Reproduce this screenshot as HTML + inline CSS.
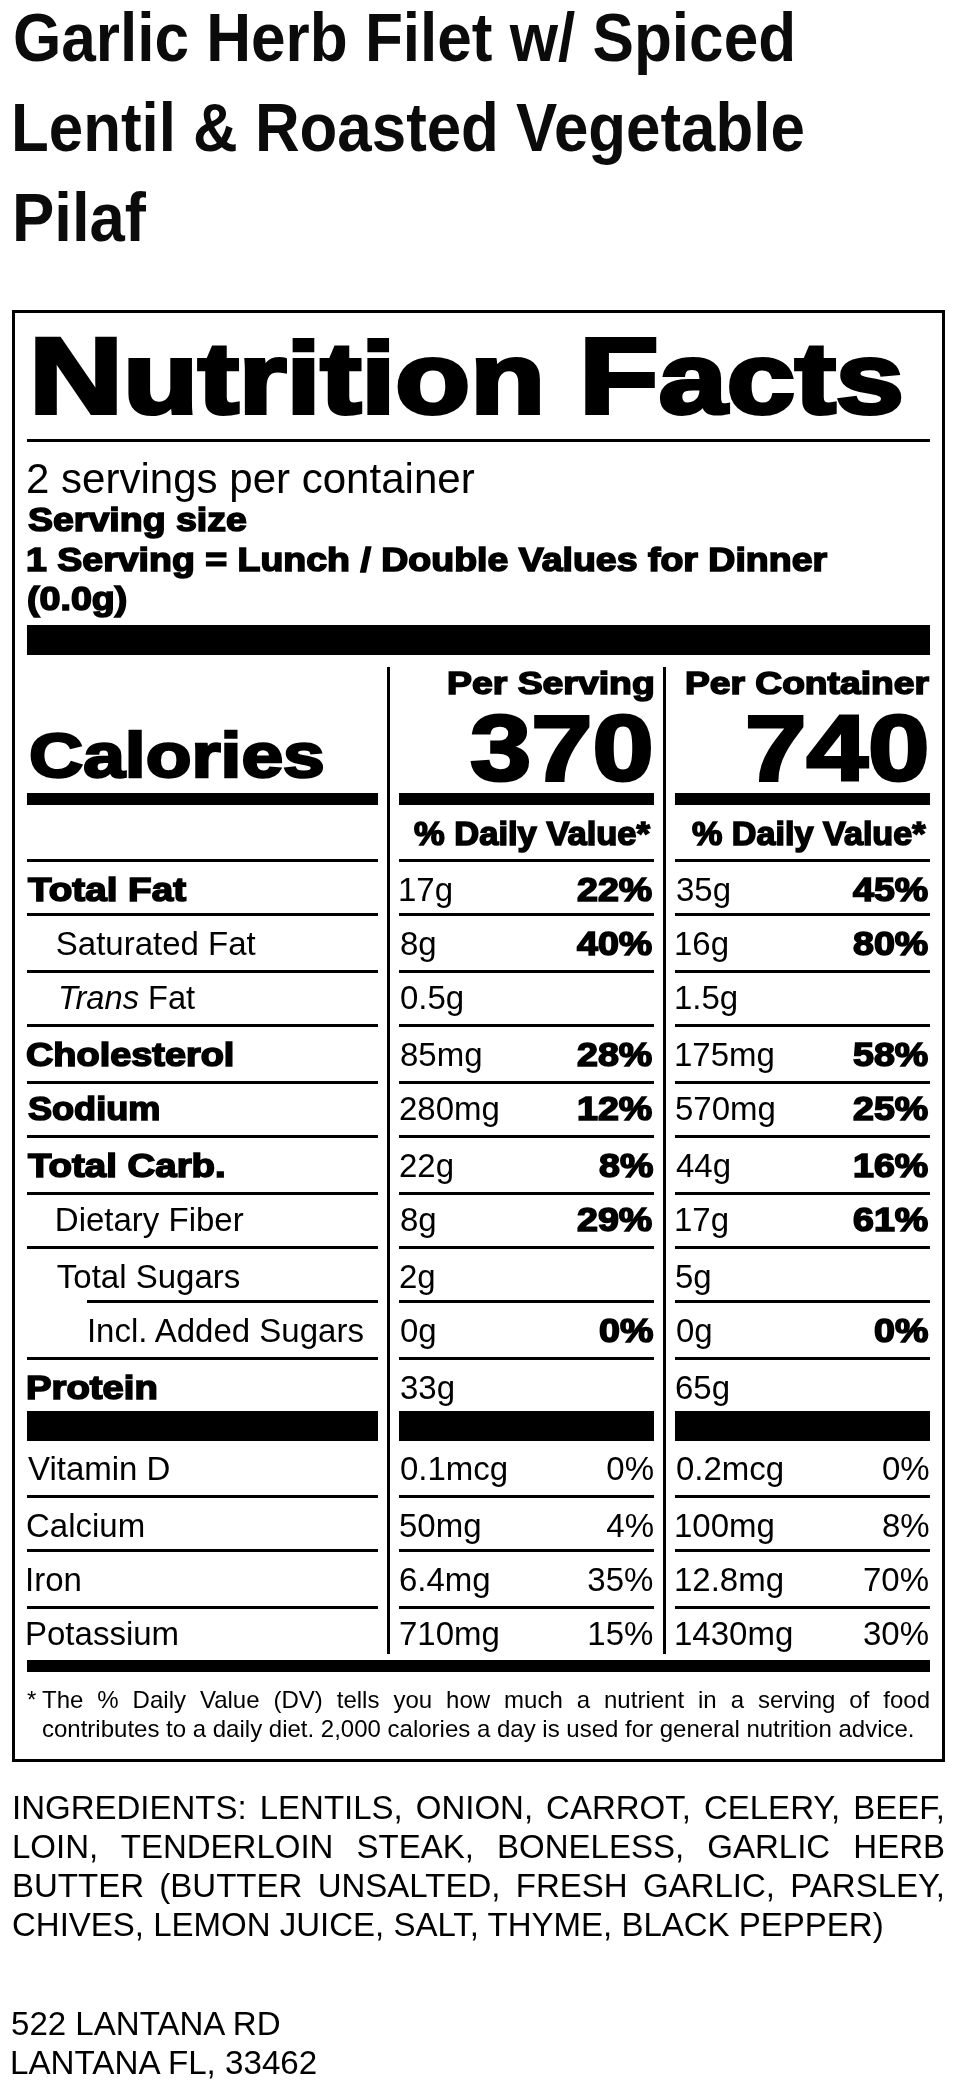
<!DOCTYPE html>
<html><head><meta charset="utf-8"><title>Nutrition Facts</title>
<style>
html,body{margin:0;padding:0;background:#fff;}
body{will-change:transform;width:957px;height:2091px;position:relative;overflow:hidden;font-family:"Liberation Sans",Arial,Helvetica,sans-serif;color:#000;}
</style></head><body>
<div style="position:absolute;left:13.26px;top:3.43px;font-size:68px;line-height:68px;white-space:nowrap;color:#0b0b0b;font-weight:700;transform-origin:0 0;transform:scaleX(0.9129);">Garlic Herb Filet w/ Spiced</div>
<div style="position:absolute;left:11.45px;top:93.43px;font-size:68px;line-height:68px;white-space:nowrap;color:#0b0b0b;font-weight:700;transform-origin:0 0;transform:scaleX(0.9094);">Lentil &amp; Roasted Vegetable</div>
<div style="position:absolute;left:12.04px;top:183.43px;font-size:68px;line-height:68px;white-space:nowrap;color:#0b0b0b;font-weight:700;transform-origin:0 0;transform:scaleX(0.9324);">Pilaf</div>
<div style="position:absolute;left:12px;top:310px;width:927px;height:1446px;border:3px solid #000"></div>
<div style="position:absolute;left:28.91px;top:327.82px;font-size:100.6px;line-height:100.6px;white-space:nowrap;color:#000;font-weight:700;-webkit-text-stroke:4px #000;transform-origin:0 0;transform:scaleX(1.2180);"><span style="font-size:107px;line-height:0">N</span>utrition <span style="font-size:107px;line-height:0">F</span>acts</div>
<div style="position:absolute;left:27px;top:439px;width:903px;height:3px;background:#000"></div>
<div style="position:absolute;left:25.50px;top:458.44px;font-size:42px;line-height:42px;white-space:nowrap;color:#000;font-weight:400;transform-origin:0 0;transform:scaleX(1.0009);">2 servings per container</div>
<div style="position:absolute;left:27.50px;top:503.06px;font-size:33px;line-height:33px;white-space:nowrap;color:#000;font-weight:700;-webkit-text-stroke:1.6px #000;transform-origin:0 0;transform:scaleX(1.1365);">Serving size</div>
<div style="position:absolute;left:26.36px;top:542.56px;font-size:33px;line-height:33px;white-space:nowrap;color:#000;font-weight:700;-webkit-text-stroke:1.6px #000;transform-origin:0 0;transform:scaleX(1.1362);">1 Serving = Lunch / Double Values for Dinner</div>
<div style="position:absolute;left:26.86px;top:581.56px;font-size:33px;line-height:33px;white-space:nowrap;color:#000;font-weight:700;-webkit-text-stroke:1.6px #000;transform-origin:0 0;transform:scaleX(1.1400);">(0.0g)</div>
<div style="position:absolute;left:27px;top:625px;width:903px;height:30px;background:#000"></div>
<div style="position:absolute;left:387px;top:667px;width:3px;height:987px;background:#000"></div>
<div style="position:absolute;left:663px;top:667px;width:3px;height:987px;background:#000"></div>
<div style="position:absolute;left:28.81px;top:723.96px;font-size:63px;line-height:63px;white-space:nowrap;color:#000;font-weight:700;-webkit-text-stroke:2.5px #000;transform-origin:0 0;transform:scaleX(1.1898);">Calories</div>
<div style="position:absolute;left:446.83px;top:666.91px;font-size:32px;line-height:32px;white-space:nowrap;color:#000;font-weight:700;-webkit-text-stroke:1.6px #000;transform-origin:0 0;transform:scaleX(1.1680);">Per Serving</div>
<div style="position:absolute;left:684.54px;top:666.91px;font-size:32px;line-height:32px;white-space:nowrap;color:#000;font-weight:700;-webkit-text-stroke:1.6px #000;transform-origin:0 0;transform:scaleX(1.1622);">Per Container</div>
<div style="position:absolute;left:469.80px;top:701.61px;font-size:92px;line-height:92px;white-space:nowrap;color:#000;font-weight:700;-webkit-text-stroke:3px #000;transform-origin:0 0;transform:scaleX(1.1960);">370</div>
<div style="position:absolute;left:745.40px;top:701.61px;font-size:92px;line-height:92px;white-space:nowrap;color:#000;font-weight:700;-webkit-text-stroke:3px #000;transform-origin:0 0;transform:scaleX(1.2013);">740</div>
<div style="position:absolute;left:27px;top:793px;width:351px;height:12px;background:#000"></div>
<div style="position:absolute;left:399px;top:793px;width:255px;height:12px;background:#000"></div>
<div style="position:absolute;left:675px;top:793px;width:255px;height:12px;background:#000"></div>
<div style="position:absolute;left:414.10px;top:817.06px;font-size:33px;line-height:33px;white-space:nowrap;color:#000;font-weight:700;-webkit-text-stroke:1.6px #000;transform-origin:0 0;transform:scaleX(1.0460);">% Daily Value*</div>
<div style="position:absolute;left:691.70px;top:817.06px;font-size:33px;line-height:33px;white-space:nowrap;color:#000;font-weight:700;-webkit-text-stroke:1.6px #000;transform-origin:0 0;transform:scaleX(1.0350);">% Daily Value*</div>
<div style="position:absolute;left:27px;top:859px;width:351px;height:3px;background:#000"></div>
<div style="position:absolute;left:399px;top:859px;width:255px;height:3px;background:#000"></div>
<div style="position:absolute;left:675px;top:859px;width:255px;height:3px;background:#000"></div>
<div style="position:absolute;left:27px;top:913px;width:351px;height:3px;background:#000"></div>
<div style="position:absolute;left:399px;top:913px;width:255px;height:3px;background:#000"></div>
<div style="position:absolute;left:675px;top:913px;width:255px;height:3px;background:#000"></div>
<div style="position:absolute;left:27px;top:970px;width:351px;height:3px;background:#000"></div>
<div style="position:absolute;left:399px;top:970px;width:255px;height:3px;background:#000"></div>
<div style="position:absolute;left:675px;top:970px;width:255px;height:3px;background:#000"></div>
<div style="position:absolute;left:27px;top:1024px;width:351px;height:3px;background:#000"></div>
<div style="position:absolute;left:399px;top:1024px;width:255px;height:3px;background:#000"></div>
<div style="position:absolute;left:675px;top:1024px;width:255px;height:3px;background:#000"></div>
<div style="position:absolute;left:27px;top:1081px;width:351px;height:3px;background:#000"></div>
<div style="position:absolute;left:399px;top:1081px;width:255px;height:3px;background:#000"></div>
<div style="position:absolute;left:675px;top:1081px;width:255px;height:3px;background:#000"></div>
<div style="position:absolute;left:27px;top:1135px;width:351px;height:3px;background:#000"></div>
<div style="position:absolute;left:399px;top:1135px;width:255px;height:3px;background:#000"></div>
<div style="position:absolute;left:675px;top:1135px;width:255px;height:3px;background:#000"></div>
<div style="position:absolute;left:27px;top:1192px;width:351px;height:3px;background:#000"></div>
<div style="position:absolute;left:399px;top:1192px;width:255px;height:3px;background:#000"></div>
<div style="position:absolute;left:675px;top:1192px;width:255px;height:3px;background:#000"></div>
<div style="position:absolute;left:27px;top:1246px;width:351px;height:3px;background:#000"></div>
<div style="position:absolute;left:399px;top:1246px;width:255px;height:3px;background:#000"></div>
<div style="position:absolute;left:675px;top:1246px;width:255px;height:3px;background:#000"></div>
<div style="position:absolute;left:87px;top:1300px;width:291px;height:3px;background:#000"></div>
<div style="position:absolute;left:399px;top:1300px;width:255px;height:3px;background:#000"></div>
<div style="position:absolute;left:675px;top:1300px;width:255px;height:3px;background:#000"></div>
<div style="position:absolute;left:27px;top:1357px;width:351px;height:3px;background:#000"></div>
<div style="position:absolute;left:399px;top:1357px;width:255px;height:3px;background:#000"></div>
<div style="position:absolute;left:675px;top:1357px;width:255px;height:3px;background:#000"></div>
<div style="position:absolute;left:27px;top:1411px;width:351px;height:30px;background:#000"></div>
<div style="position:absolute;left:399px;top:1411px;width:255px;height:30px;background:#000"></div>
<div style="position:absolute;left:675px;top:1411px;width:255px;height:30px;background:#000"></div>
<div style="position:absolute;left:27px;top:1495px;width:351px;height:3px;background:#000"></div>
<div style="position:absolute;left:399px;top:1495px;width:255px;height:3px;background:#000"></div>
<div style="position:absolute;left:675px;top:1495px;width:255px;height:3px;background:#000"></div>
<div style="position:absolute;left:27px;top:1549px;width:351px;height:3px;background:#000"></div>
<div style="position:absolute;left:399px;top:1549px;width:255px;height:3px;background:#000"></div>
<div style="position:absolute;left:675px;top:1549px;width:255px;height:3px;background:#000"></div>
<div style="position:absolute;left:27px;top:1606px;width:351px;height:3px;background:#000"></div>
<div style="position:absolute;left:399px;top:1606px;width:255px;height:3px;background:#000"></div>
<div style="position:absolute;left:675px;top:1606px;width:255px;height:3px;background:#000"></div>
<div style="position:absolute;left:27px;top:1660px;width:903px;height:12px;background:#000"></div>
<div style="position:absolute;left:27.50px;top:873.06px;font-size:33px;line-height:33px;white-space:nowrap;color:#000;font-weight:700;-webkit-text-stroke:1.6px #000;transform-origin:0 0;transform:scaleX(1.1704);">Total Fat</div>
<div style="position:absolute;left:398.00px;top:873.06px;font-size:33px;line-height:33px;white-space:nowrap;color:#000;font-weight:400;">17g</div>
<div style="position:absolute;left:676.00px;top:873.06px;font-size:33px;line-height:33px;white-space:nowrap;color:#000;font-weight:400;">35g</div>
<div style="position:absolute;left:577.06px;top:873.06px;font-size:33px;line-height:33px;white-space:nowrap;color:#000;font-weight:700;-webkit-text-stroke:1.6px #000;transform-origin:0 0;transform:scaleX(1.1400);">22%</div>
<div style="position:absolute;left:852.76px;top:873.06px;font-size:33px;line-height:33px;white-space:nowrap;color:#000;font-weight:700;-webkit-text-stroke:1.6px #000;transform-origin:0 0;transform:scaleX(1.1400);">45%</div>
<div style="position:absolute;left:55.80px;top:926.56px;font-size:33px;line-height:33px;white-space:nowrap;color:#000;font-weight:400;">Saturated Fat</div>
<div style="position:absolute;left:400.00px;top:926.56px;font-size:33px;line-height:33px;white-space:nowrap;color:#000;font-weight:400;">8g</div>
<div style="position:absolute;left:674.00px;top:926.56px;font-size:33px;line-height:33px;white-space:nowrap;color:#000;font-weight:400;">16g</div>
<div style="position:absolute;left:577.06px;top:926.56px;font-size:33px;line-height:33px;white-space:nowrap;color:#000;font-weight:700;-webkit-text-stroke:1.6px #000;transform-origin:0 0;transform:scaleX(1.1400);">40%</div>
<div style="position:absolute;left:852.76px;top:926.56px;font-size:33px;line-height:33px;white-space:nowrap;color:#000;font-weight:700;-webkit-text-stroke:1.6px #000;transform-origin:0 0;transform:scaleX(1.1400);">80%</div>
<div style="position:absolute;left:58.44px;top:981.06px;font-size:33px;line-height:33px;white-space:nowrap;color:#000;font-weight:400;transform-origin:0 0;transform:scaleX(0.9881);"><i>Trans</i> Fat</div>
<div style="position:absolute;left:400.00px;top:981.06px;font-size:33px;line-height:33px;white-space:nowrap;color:#000;font-weight:400;">0.5g</div>
<div style="position:absolute;left:674.00px;top:981.06px;font-size:33px;line-height:33px;white-space:nowrap;color:#000;font-weight:400;">1.5g</div>
<div style="position:absolute;left:26.35px;top:1037.56px;font-size:33px;line-height:33px;white-space:nowrap;color:#000;font-weight:700;-webkit-text-stroke:1.6px #000;transform-origin:0 0;transform:scaleX(1.1480);">Cholesterol</div>
<div style="position:absolute;left:400.00px;top:1037.56px;font-size:33px;line-height:33px;white-space:nowrap;color:#000;font-weight:400;">85mg</div>
<div style="position:absolute;left:674.00px;top:1037.56px;font-size:33px;line-height:33px;white-space:nowrap;color:#000;font-weight:400;">175mg</div>
<div style="position:absolute;left:577.06px;top:1037.56px;font-size:33px;line-height:33px;white-space:nowrap;color:#000;font-weight:700;-webkit-text-stroke:1.6px #000;transform-origin:0 0;transform:scaleX(1.1400);">28%</div>
<div style="position:absolute;left:852.76px;top:1037.56px;font-size:33px;line-height:33px;white-space:nowrap;color:#000;font-weight:700;-webkit-text-stroke:1.6px #000;transform-origin:0 0;transform:scaleX(1.1400);">58%</div>
<div style="position:absolute;left:27.50px;top:1091.56px;font-size:33px;line-height:33px;white-space:nowrap;color:#000;font-weight:700;-webkit-text-stroke:1.6px #000;transform-origin:0 0;transform:scaleX(1.0933);">Sodium</div>
<div style="position:absolute;left:399.00px;top:1091.56px;font-size:33px;line-height:33px;white-space:nowrap;color:#000;font-weight:400;">280mg</div>
<div style="position:absolute;left:675.00px;top:1091.56px;font-size:33px;line-height:33px;white-space:nowrap;color:#000;font-weight:400;">570mg</div>
<div style="position:absolute;left:577.06px;top:1091.56px;font-size:33px;line-height:33px;white-space:nowrap;color:#000;font-weight:700;-webkit-text-stroke:1.6px #000;transform-origin:0 0;transform:scaleX(1.1400);">12%</div>
<div style="position:absolute;left:852.76px;top:1091.56px;font-size:33px;line-height:33px;white-space:nowrap;color:#000;font-weight:700;-webkit-text-stroke:1.6px #000;transform-origin:0 0;transform:scaleX(1.1400);">25%</div>
<div style="position:absolute;left:27.50px;top:1149.06px;font-size:33px;line-height:33px;white-space:nowrap;color:#000;font-weight:700;-webkit-text-stroke:1.6px #000;transform-origin:0 0;transform:scaleX(1.1637);">Total Carb.</div>
<div style="position:absolute;left:399.00px;top:1149.06px;font-size:33px;line-height:33px;white-space:nowrap;color:#000;font-weight:400;">22g</div>
<div style="position:absolute;left:676.00px;top:1149.06px;font-size:33px;line-height:33px;white-space:nowrap;color:#000;font-weight:400;">44g</div>
<div style="position:absolute;left:598.72px;top:1149.06px;font-size:33px;line-height:33px;white-space:nowrap;color:#000;font-weight:700;-webkit-text-stroke:1.6px #000;transform-origin:0 0;transform:scaleX(1.1400);">8%</div>
<div style="position:absolute;left:852.76px;top:1149.06px;font-size:33px;line-height:33px;white-space:nowrap;color:#000;font-weight:700;-webkit-text-stroke:1.6px #000;transform-origin:0 0;transform:scaleX(1.1400);">16%</div>
<div style="position:absolute;left:54.80px;top:1203.06px;font-size:33px;line-height:33px;white-space:nowrap;color:#000;font-weight:400;">Dietary Fiber</div>
<div style="position:absolute;left:400.00px;top:1203.06px;font-size:33px;line-height:33px;white-space:nowrap;color:#000;font-weight:400;">8g</div>
<div style="position:absolute;left:674.00px;top:1203.06px;font-size:33px;line-height:33px;white-space:nowrap;color:#000;font-weight:400;">17g</div>
<div style="position:absolute;left:577.06px;top:1203.06px;font-size:33px;line-height:33px;white-space:nowrap;color:#000;font-weight:700;-webkit-text-stroke:1.6px #000;transform-origin:0 0;transform:scaleX(1.1400);">29%</div>
<div style="position:absolute;left:852.76px;top:1203.06px;font-size:33px;line-height:33px;white-space:nowrap;color:#000;font-weight:700;-webkit-text-stroke:1.6px #000;transform-origin:0 0;transform:scaleX(1.1400);">61%</div>
<div style="position:absolute;left:56.80px;top:1260.06px;font-size:33px;line-height:33px;white-space:nowrap;color:#000;font-weight:400;">Total Sugars</div>
<div style="position:absolute;left:399.00px;top:1260.06px;font-size:33px;line-height:33px;white-space:nowrap;color:#000;font-weight:400;">2g</div>
<div style="position:absolute;left:675.00px;top:1260.06px;font-size:33px;line-height:33px;white-space:nowrap;color:#000;font-weight:400;">5g</div>
<div style="position:absolute;left:86.90px;top:1314.06px;font-size:33px;line-height:33px;white-space:nowrap;color:#000;font-weight:400;">Incl. Added Sugars</div>
<div style="position:absolute;left:400.00px;top:1314.06px;font-size:33px;line-height:33px;white-space:nowrap;color:#000;font-weight:400;">0g</div>
<div style="position:absolute;left:676.00px;top:1314.06px;font-size:33px;line-height:33px;white-space:nowrap;color:#000;font-weight:400;">0g</div>
<div style="position:absolute;left:598.72px;top:1314.06px;font-size:33px;line-height:33px;white-space:nowrap;color:#000;font-weight:700;-webkit-text-stroke:1.6px #000;transform-origin:0 0;transform:scaleX(1.1400);">0%</div>
<div style="position:absolute;left:874.42px;top:1314.06px;font-size:33px;line-height:33px;white-space:nowrap;color:#000;font-weight:700;-webkit-text-stroke:1.6px #000;transform-origin:0 0;transform:scaleX(1.1400);">0%</div>
<div style="position:absolute;left:26.34px;top:1371.06px;font-size:33px;line-height:33px;white-space:nowrap;color:#000;font-weight:700;-webkit-text-stroke:1.6px #000;transform-origin:0 0;transform:scaleX(1.1595);">Protein</div>
<div style="position:absolute;left:400.00px;top:1371.06px;font-size:33px;line-height:33px;white-space:nowrap;color:#000;font-weight:400;">33g</div>
<div style="position:absolute;left:675.00px;top:1371.06px;font-size:33px;line-height:33px;white-space:nowrap;color:#000;font-weight:400;">65g</div>
<div style="position:absolute;left:28.00px;top:1452.06px;font-size:33px;line-height:33px;white-space:nowrap;color:#000;font-weight:400;">Vitamin D</div>
<div style="position:absolute;left:400.00px;top:1452.06px;font-size:33px;line-height:33px;white-space:nowrap;color:#000;font-weight:400;">0.1mcg</div>
<div style="position:absolute;left:676.00px;top:1452.06px;font-size:33px;line-height:33px;white-space:nowrap;color:#000;font-weight:400;">0.2mcg</div>
<div style="position:absolute;left:606.30px;top:1452.06px;font-size:33px;line-height:33px;white-space:nowrap;color:#000;font-weight:400;">0%</div>
<div style="position:absolute;left:882.00px;top:1452.06px;font-size:33px;line-height:33px;white-space:nowrap;color:#000;font-weight:400;">0%</div>
<div style="position:absolute;left:26.00px;top:1509.06px;font-size:33px;line-height:33px;white-space:nowrap;color:#000;font-weight:400;">Calcium</div>
<div style="position:absolute;left:399.00px;top:1509.06px;font-size:33px;line-height:33px;white-space:nowrap;color:#000;font-weight:400;">50mg</div>
<div style="position:absolute;left:674.00px;top:1509.06px;font-size:33px;line-height:33px;white-space:nowrap;color:#000;font-weight:400;">100mg</div>
<div style="position:absolute;left:606.30px;top:1509.06px;font-size:33px;line-height:33px;white-space:nowrap;color:#000;font-weight:400;">4%</div>
<div style="position:absolute;left:882.00px;top:1509.06px;font-size:33px;line-height:33px;white-space:nowrap;color:#000;font-weight:400;">8%</div>
<div style="position:absolute;left:25.00px;top:1563.06px;font-size:33px;line-height:33px;white-space:nowrap;color:#000;font-weight:400;">Iron</div>
<div style="position:absolute;left:399.00px;top:1563.06px;font-size:33px;line-height:33px;white-space:nowrap;color:#000;font-weight:400;">6.4mg</div>
<div style="position:absolute;left:674.00px;top:1563.06px;font-size:33px;line-height:33px;white-space:nowrap;color:#000;font-weight:400;">12.8mg</div>
<div style="position:absolute;left:587.30px;top:1563.06px;font-size:33px;line-height:33px;white-space:nowrap;color:#000;font-weight:400;">35%</div>
<div style="position:absolute;left:863.00px;top:1563.06px;font-size:33px;line-height:33px;white-space:nowrap;color:#000;font-weight:400;">70%</div>
<div style="position:absolute;left:25.00px;top:1617.06px;font-size:33px;line-height:33px;white-space:nowrap;color:#000;font-weight:400;">Potassium</div>
<div style="position:absolute;left:399.00px;top:1617.06px;font-size:33px;line-height:33px;white-space:nowrap;color:#000;font-weight:400;">710mg</div>
<div style="position:absolute;left:674.00px;top:1617.06px;font-size:33px;line-height:33px;white-space:nowrap;color:#000;font-weight:400;">1430mg</div>
<div style="position:absolute;left:587.30px;top:1617.06px;font-size:33px;line-height:33px;white-space:nowrap;color:#000;font-weight:400;">15%</div>
<div style="position:absolute;left:863.00px;top:1617.06px;font-size:33px;line-height:33px;white-space:nowrap;color:#000;font-weight:400;">30%</div>
<div style="position:absolute;left:27px;top:1685px;width:903px;font-size:24px;line-height:29px;text-align:justify;"><span style="position:absolute;left:0;top:0">*</span><div style="margin-left:15px">The % Daily Value (DV) tells you how much a nutrient in a serving of food contributes to a daily diet. 2,000 calories a day is used for general nutrition advice.</div></div>
<div style="position:absolute;left:12px;top:1788px;width:933px;font-size:33px;line-height:39px;text-align:justify;">INGREDIENTS: LENTILS, ONION, CARROT, CELERY, BEEF, LOIN, TENDERLOIN STEAK, BONELESS, GARLIC HERB BUTTER (BUTTER UNSALTED, FRESH GARLIC, PARSLEY, CHIVES, LEMON JUICE, SALT, THYME, BLACK PEPPER)</div>
<div style="position:absolute;left:11.10px;top:2006.56px;font-size:33px;line-height:33px;white-space:nowrap;color:#000;font-weight:400;transform-origin:0 0;transform:scaleX(1.0019);">522 LANTANA RD</div>
<div style="position:absolute;left:9.99px;top:2045.86px;font-size:33px;line-height:33px;white-space:nowrap;color:#000;font-weight:400;transform-origin:0 0;transform:scaleX(1.0050);">LANTANA FL, 33462</div>
</body></html>
